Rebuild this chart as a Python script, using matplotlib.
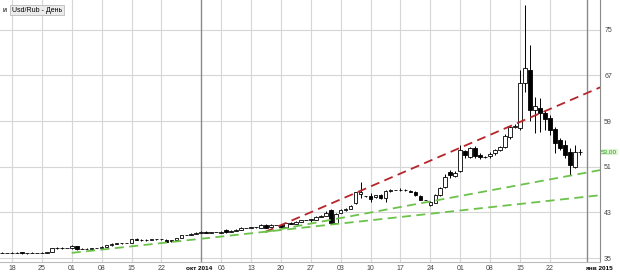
import numpy as np
import pandas as pd
import matplotlib
matplotlib.use("Agg")
import matplotlib.pyplot as plt
import matplotlib.transforms as mtransforms

plt.rcParams["font.family"] = ["Liberation Sans", "DejaVu Sans"]

# USD/RUB daily candles, 15 Aug - 29 Dec 2014 (Saturdays missing, Sundays kept)
open_ = [35.95,
         35.90, 35.90, 35.95, 36.05, 35.80, 35.90,   # Aug 17-22
         35.85, 35.90, 35.95, 36.05, 36.70, 36.75,   # Aug 24-29
         36.70, 36.70, 37.10, 36.60, 36.65, 36.60,   # Aug 31-Sep 5
         36.75, 36.80, 37.00, 37.20, 37.50, 37.60,   # Sep 7-12
         37.60, 37.60, 38.30, 38.20, 38.10, 38.20,   # Sep 14-19
         38.25, 38.25, 38.20, 37.90, 38.10, 38.50,   # Sep 21-26
         39.00, 39.00, 39.20, 39.40, 39.55, 39.40,   # Sep 28-Oct 3
         39.50, 39.45, 39.90, 39.60, 39.80, 39.90,   # Oct 5-10
         40.30, 40.30, 40.35, 40.30, 40.80, 40.40,   # Oct 12-17
         40.80, 40.80, 40.50, 41.10, 41.00, 41.30,   # Oct 19-24
         41.60, 41.60, 41.70, 42.20, 42.40, 43.40,   # Oct 26-31
         41.20, 42.90, 43.40, 43.60, 44.60, 46.30,   # Nov 2-7
         45.80, 45.90, 45.70, 46.00, 45.50, 46.80,   # Nov 9-14
         46.90, 46.90, 47.00, 46.80, 46.60, 45.90,   # Nov 16-21
         45.20, 44.30, 44.70, 46.00, 47.40, 50.00,   # Nov 23-28
         49.40, 50.20, 53.70, 52.70, 54.30, 53.00,   # Nov 30-Dec 5
         52.70, 52.90, 53.40, 54.00, 54.40, 56.20,   # Dec 7-12
         57.90, 57.80, 65.60, 67.90, 60.90, 61.30,   # Dec 14-19
         60.40, 59.50, 57.60, 55.70, 54.80, 53.60,   # Dec 21-26
         51.00, 53.50]                               # Dec 28-29
high = [36.05,
        35.92, 36.05, 36.05, 36.10, 35.95, 36.00,
        35.87, 36.00, 36.10, 36.80, 36.90, 36.85,
        36.72, 37.20, 37.15, 36.75, 36.75, 36.80,
        36.77, 37.05, 37.25, 37.55, 37.65, 37.70,
        37.62, 38.40, 38.45, 38.35, 38.30, 38.35,
        38.27, 38.40, 38.30, 38.15, 38.55, 39.10,
        39.02, 39.30, 39.50, 39.65, 39.65, 39.60,
        39.52, 39.70, 40.00, 39.90, 40.00, 40.45,
        40.32, 40.50, 40.50, 40.90, 40.95, 40.90,
        40.82, 40.90, 41.20, 41.25, 41.40, 41.70,
        41.62, 41.90, 42.30, 42.50, 43.20, 43.60,
        42.80, 43.50, 43.70, 44.20, 46.60, 48.30,
        45.95, 46.40, 46.10, 46.20, 46.90, 47.10,
        46.92, 47.20, 47.10, 46.95, 46.75, 46.00,
        45.22, 44.90, 46.20, 47.40, 49.80, 50.40,
        50.20, 54.80, 54.00, 54.50, 54.60, 53.40,
        52.80, 53.60, 54.10, 54.70, 56.80, 58.20,
        58.40, 67.90, 79.30, 72.30, 63.20, 63.00,
        60.90, 60.00, 58.00, 56.00, 55.60, 54.20,
        54.80, 54.10]
low = [35.85,
       35.88, 35.80, 35.85, 35.75, 35.75, 35.80,
       35.83, 35.80, 35.90, 36.00, 36.60, 36.60,
       36.68, 36.65, 36.40, 36.50, 36.55, 36.55,
       36.73, 36.70, 36.95, 37.15, 37.40, 37.45,
       37.58, 37.55, 38.10, 38.05, 38.00, 38.10,
       38.23, 38.15, 37.75, 37.80, 38.05, 38.45,
       38.98, 38.95, 39.15, 39.30, 39.30, 39.35,
       39.48, 39.40, 39.45, 39.55, 39.70, 39.85,
       40.28, 40.20, 40.25, 40.25, 40.20, 40.35,
       40.78, 40.30, 40.45, 40.90, 40.95, 41.25,
       41.58, 41.30, 41.65, 42.10, 42.35, 41.00,
       41.10, 42.80, 43.30, 43.50, 44.50, 45.50,
       45.75, 44.80, 45.50, 45.40, 44.80, 46.60,
       46.88, 46.70, 46.80, 46.50, 45.90, 45.10,
       45.15, 44.10, 44.60, 45.90, 47.20, 49.10,
       49.20, 50.00, 52.60, 52.50, 52.50, 52.40,
       52.60, 52.50, 53.00, 53.80, 54.20, 55.80,
       57.70, 57.50, 64.00, 59.00, 56.90, 57.10,
       57.40, 56.60, 53.40, 53.90, 52.50, 49.50,
       50.80, 53.10]
close = [35.90,
         35.90, 35.95, 35.90, 35.80, 35.90, 35.85,
         35.85, 35.95, 36.00, 36.75, 36.75, 36.70,
         36.70, 37.10, 36.60, 36.65, 36.60, 36.70,
         36.75, 37.00, 37.20, 37.50, 37.60, 37.55,
         37.60, 38.30, 38.20, 38.10, 38.20, 38.25,
         38.25, 38.30, 37.85, 38.10, 38.50, 39.00,
         39.00, 39.20, 39.40, 39.50, 39.40, 39.50,
         39.50, 39.55, 39.50, 39.80, 39.90, 40.30,
         40.30, 40.40, 40.40, 40.80, 40.30, 40.80,
         40.80, 40.40, 41.10, 41.00, 41.30, 41.60,
         41.60, 41.80, 42.20, 42.40, 42.90, 41.20,
         42.70, 43.40, 43.60, 44.10, 46.50, 46.50,
         45.90, 45.30, 46.00, 45.50, 46.70, 46.90,
         46.90, 47.00, 46.90, 46.60, 46.00, 45.20,
         45.20, 44.80, 46.00, 47.30, 49.20, 49.50,
         49.90, 53.90, 53.00, 54.20, 52.80, 52.70,
         52.70, 53.30, 53.90, 54.40, 56.30, 57.90,
         58.20, 65.60, 68.30, 61.00, 61.60, 60.40,
         59.30, 57.40, 55.10, 54.30, 53.00, 51.30,
         53.60, 53.60]

dates = pd.date_range("2014-08-15", "2014-12-29")
dates = dates[dates.dayofweek != 5]

price_ticks = [35, 43, 51, 59, 67, 75]
last_label = "53,00"

# hand drawn trend lines: (candle index, price) at both ends
red_line = ([52.8, 120.1], [39.55, 64.9])
green_upper = ([52.8, 120.1], [39.55, 50.4])
green_lower = ([14.0, 120.1], [35.9, 46.0])

# month separators
month_names = ["окт 2014", "янв 2015"]
month_pos = [int(np.where(dates == "2014-10-01")[0][0]), len(dates) + 0.5]

o, h, l, c = (np.array(v) for v in (open_, high, low, close))
x = np.arange(len(dates))

fig = plt.figure(figsize=(6.2, 2.73), dpi=100)
ax = fig.add_axes([0, 11 / 273, 600 / 620, 262 / 273])

# weekly grid (Mondays), skipping the ones next to a month line
mondays = [i for i in np.where(dates.dayofweek == 0)[0]
           if min(abs(i - m) for m in month_pos) > 3]
ax.set_xticks(mondays)
ax.set_xticklabels(dates[mondays].strftime("%d"))
ax.set_yticks(price_ticks)
ax.grid(True, color="#d6d6d6", lw=0.8, zorder=0)
ax.set_axisbelow(True)

trans = mtransforms.blended_transform_factory(ax.transData, ax.transAxes)
for name, pos in zip(month_names, month_pos):
    ax.axvline(pos, color="#8a8a8a", lw=1.0, zorder=1)
    ha = "center" if pos < 100 else "left"
    ax.text(pos - (0.4 if ha == "center" else 0.4), -0.024, name, transform=trans,
            ha=ha, va="center", fontsize=4.6, fontweight="bold", clip_on=False)

# candles
up = c >= o
ax.vlines(x, l, h, color="black", lw=0.7, zorder=3)
body_lo = np.minimum(o, c)
body_h = np.maximum(np.abs(c - o), 0.04)
ax.bar(x[up], body_h[up], bottom=body_lo[up], width=0.72,
       facecolor="white", edgecolor="black", lw=0.6, zorder=4)
ax.bar(x[~up], body_h[~up], bottom=body_lo[~up], width=0.72,
       facecolor="black", edgecolor="black", lw=0.6, zorder=4)

# trend lines
ax.plot(*red_line, color="#b5262a", lw=1.3, dashes=(5, 3), zorder=5)
ax.plot(*green_upper, color="#6cc24a", lw=1.3, dashes=(5, 3), zorder=5)
ax.plot(*green_lower, color="#6cc24a", lw=1.3, dashes=(5, 3), zorder=5)

ax.set_xlim(-0.41, 120.07)
ax.set_ylim(34.3, 80.2)

ax.yaxis.tick_right()
ax.tick_params(axis="y", length=0, pad=3, labelsize=5, labelcolor="#444444")
ax.tick_params(axis="x", length=0, pad=2, labelsize=5, labelcolor="#444444")
for s in ("left", "top"):
    ax.spines[s].set_visible(False)
ax.spines["right"].set_color("#8a8a8a")
ax.spines["bottom"].set_color("#bbbbbb")

# last price marker on the scale
ytrans = mtransforms.blended_transform_factory(ax.transAxes, ax.transData)
ax.text(1.002, c[-1], last_label, transform=ytrans, fontsize=4.6, color="#1f9e1f",
        va="center", ha="left", clip_on=False,
        bbox=dict(facecolor="#dff5d2", edgecolor="none", pad=0.4))

# chart caption box
ax.text(0.004, 0.975, "и", transform=ax.transAxes, fontsize=5, va="top")
ax.text(0.02, 0.975, "Usd/Rub - День", transform=ax.transAxes, fontsize=5, va="top",
        bbox=dict(facecolor="#ececec", edgecolor="#b0b0b0", lw=0.5, pad=1.2))

fig.savefig("out.png", dpi=100)
